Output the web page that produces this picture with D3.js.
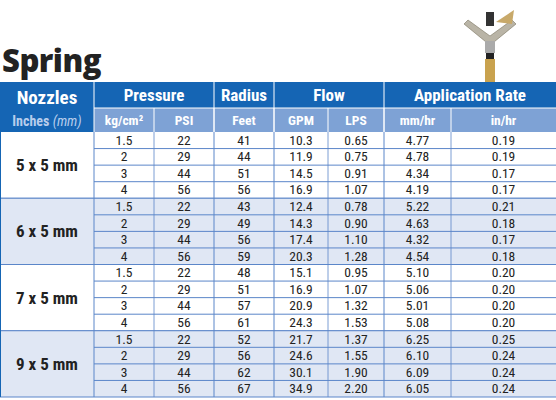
<!DOCTYPE html><html><head><meta charset="utf-8">
<script src="https://cdn.jsdelivr.net/npm/d3@7"></script>
<style>body{margin:0;background:#fff}svg{display:block}</style></head><body>
<svg id="c" width="556" height="400"></svg>
<script>
const nozzles=["5 x 5 mm","6 x 5 mm","7 x 5 mm","9 x 5 mm"];
const kg=["1.5","2","3","4"];
const psi=["22","29","44","56"];
const radius=[[41,44,51,56],[43,49,56,59],[48,51,57,61],[52,56,62,67]];
const gpm=[["10.3","11.9","14.5","16.9"],["12.4","14.3","17.4","20.3"],["15.1","16.9","20.9","24.3"],["21.7","24.6","30.1","34.9"]];
const lps=[["0.65","0.75","0.91","1.07"],["0.78","0.90","1.10","1.28"],["0.95","1.07","1.32","1.53"],["1.37","1.55","1.90","2.20"]];
const mmhr=[["4.77","4.78","4.34","4.19"],["5.22","4.63","4.32","4.54"],["5.10","5.06","5.01","5.08"],["6.25","6.10","6.09","6.05"]];
const inhr=[["0.19","0.19","0.17","0.17"],["0.21","0.18","0.17","0.18"],["0.20","0.20","0.20","0.20"],["0.25","0.24","0.24","0.24"]];
const groups=["Pressure","Radius","Flow","Application Rate"];
const units=["kg/cm²","PSI","Feet","GPM","LPS","mm/hr","in/hr"];

const svg=d3.select("#c");
const F='"Liberation Sans Narrow","Roboto Condensed","Open Sans",sans-serif';
const edges=[0,94,154,214,274,328,384,451,556];
const x=i=>edges[i];
const y=d3.scaleLinear().domain([0,16]).range([132,397]);
const blue="#1565b4", sub="#7ea2d5", line="#5b86c9";

svg.append("text").attr("x",2).attr("y",72).text("Spring").attr("font-family","Open Sans,sans-serif").attr("font-weight",800).attr("font-size",31).attr("letter-spacing",-0.5).attr("fill","#222");
const g=svg.append("g").attr("transform","translate(490,8)");
g.append("path").attr("d","M-22,12 L0,28 L22,12 L26,16 L4,34 L-4,34 L-26,16Z").attr("fill","#b9b4a6").attr("stroke","#7a735f").attr("stroke-width",.6);
g.append("rect").attr("x",-4).attr("y",4).attr("width",8).attr("height",14).attr("fill","#333");
g.append("path").attr("d","M6,14 L24,2 L22,16Z").attr("fill","#c8a96a");
g.append("rect").attr("x",-5).attr("y",33).attr("width",10).attr("height",12).attr("fill","#aaa");
g.append("rect").attr("x",-4).attr("y",45).attr("width",8).attr("height",6).attr("fill","#222");
g.append("rect").attr("x",-5).attr("y",51).attr("width",10).attr("height",26).attr("fill","#c9a24e");

svg.append("rect").attr("x",0).attr("y",82).attr("width",556).attr("height",26).attr("fill",blue);
svg.append("rect").attr("x",0).attr("y",108).attr("width",94).attr("height",24).attr("fill",blue);
svg.append("rect").attr("x",94).attr("y",108).attr("width",462).attr("height",24).attr("fill",sub);
const gspan=[[1,3],[3,4],[4,6],[6,8]];
groups.forEach((t,i)=>{
  svg.append("text").attr("x",(x(gspan[i][0])+x(gspan[i][1]))/2).attr("y",101).attr("text-anchor","middle")
   .attr("font-family",F).attr("font-weight",700).attr("font-size",17).attr("fill","#fff").text(t);
  if(i>0) svg.append("line").attr("x1",x(gspan[i][0])).attr("x2",x(gspan[i][0])).attr("y1",82).attr("y2",132).attr("stroke","#fff");
});
svg.append("line").attr("x1",94).attr("x2",94).attr("y1",82).attr("y2",132).attr("stroke","#fff");
svg.append("line").attr("x1",94).attr("x2",556).attr("y1",108).attr("y2",108).attr("stroke","#fff");
svg.append("text").attr("x",47).attr("y",104).attr("text-anchor","middle").attr("font-family",F).attr("font-weight",700).attr("font-size",19).attr("fill","#fff").text("Nozzles");
const it=svg.append("text").attr("x",47).attr("y",126).attr("text-anchor","middle").attr("font-family",F).attr("font-weight",700).attr("font-size",14).attr("fill","#b8cdec");
it.append("tspan").text("Inches ");it.append("tspan").attr("font-style","italic").attr("font-weight",400).text("(mm)");
units.forEach((u,i)=>{
  svg.append("text").attr("x",(x(i+1)+x(i+2))/2).attr("y",125).attr("text-anchor","middle").attr("font-family",F).attr("font-weight",700).attr("font-size",13.5).attr("fill","#fff").text(u);
  if(i>0) svg.append("line").attr("x1",x(i+1)).attr("x2",x(i+1)).attr("y1",108).attr("y2",132).attr("stroke","#fff");
});

nozzles.forEach((n,gi)=>{
  svg.append("rect").attr("x",0).attr("y",y(gi*4)).attr("width",556).attr("height",y(4)-y(0)).attr("fill",gi%2?"#e0e7f4":"#fff");
  svg.append("text").attr("x",47).attr("y",(y(gi*4)+y(gi*4+4))/2+6).attr("text-anchor","middle").attr("font-family",F).attr("font-weight",700).attr("font-size",17).attr("fill","#222").text(n);
  for(let r=0;r<4;r++){
    const vals=[kg[r],psi[r],radius[gi][r],gpm[gi][r],lps[gi][r],mmhr[gi][r],inhr[gi][r]];
    vals.forEach((v,c)=>{
      svg.append("text").attr("x",(x(c+1)+x(c+2))/2).attr("y",y(gi*4+r)+12.8).attr("text-anchor","middle")
        .attr("font-family",F).attr("font-size",13.5).attr("fill","#222").text(v);
    });
    if(r>0) svg.append("line").attr("x1",94).attr("x2",556).attr("y1",y(gi*4+r)).attr("y2",y(gi*4+r)).attr("stroke",line);
  }
  svg.append("line").attr("x1",0).attr("x2",556).attr("y1",y(gi*4+4)).attr("y2",y(gi*4+4)).attr("stroke",line).attr("stroke-width",1.2);
  if(gi>0) svg.append("line").attr("x1",0).attr("x2",556).attr("y1",y(gi*4)).attr("y2",y(gi*4)).attr("stroke",line).attr("stroke-width",1.2);
});
[1,3,4,6].forEach(i=>svg.append("line").attr("x1",x(i)).attr("x2",x(i)).attr("y1",132).attr("y2",397).attr("stroke",line));
[2,5,7].forEach(i=>svg.append("line").attr("x1",x(i)).attr("x2",x(i)).attr("y1",132).attr("y2",397).attr("stroke",line).attr("stroke-width",.8));
svg.append("line").attr("x1",0).attr("x2",0).attr("y1",132).attr("y2",397).attr("stroke",blue).attr("stroke-width",2);
</script></body></html>
